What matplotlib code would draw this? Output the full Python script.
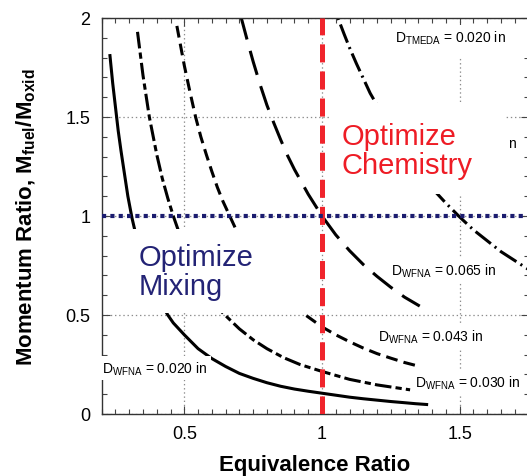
import matplotlib
matplotlib.use("Agg")
import matplotlib.pyplot as plt
from matplotlib.patches import Rectangle
from matplotlib.ticker import MultipleLocator, FuncFormatter

plt.rcParams["font.family"] = ["Liberation Sans", "DejaVu Sans"]
plt.rcParams["mathtext.fontset"] = "custom"
plt.rcParams["mathtext.rm"] = "Liberation Sans"
plt.rcParams["mathtext.bf"] = "Liberation Sans:bold"
plt.rcParams["lines.scale_dashes"] = False

# curves (equivalence ratio, momentum ratio)
x_020 = [0.23, 0.24, 0.25, 0.26, 0.27, 0.283, 0.295, 0.31, 0.32, 0.335, 0.35, 0.365,
         0.38, 0.40, 0.42, 0.44, 0.46, 0.48, 0.5, 0.525, 0.55, 0.575, 0.6, 0.65,
         0.7, 0.75, 0.8, 0.85, 0.9, 0.95, 1.0, 1.05, 1.1, 1.15, 1.2, 1.25, 1.3, 1.34, 1.38]
y_020 = [1.81, 1.67, 1.55, 1.43, 1.33, 1.21, 1.10, 0.99, 0.93, 0.855, 0.79, 0.725,
         0.67, 0.605, 0.55, 0.50, 0.46, 0.43, 0.40, 0.365, 0.33, 0.305, 0.28, 0.24,
         0.205, 0.18, 0.158, 0.14, 0.126, 0.115, 0.105, 0.095, 0.085, 0.077, 0.07,
         0.063, 0.057, 0.052, 0.048]

x_030 = [0.33, 0.35, 0.373, 0.40, 0.42, 0.44, 0.46, 0.48, 0.50, 0.52, 0.54, 0.56,
         0.58, 0.6, 0.64, 0.7, 0.75, 0.8, 0.86, 0.92, 1.0, 1.1, 1.2, 1.32]
y_030 = [1.93, 1.71, 1.5, 1.31, 1.19, 1.09, 1.0, 0.92, 0.845, 0.78, 0.72, 0.67,
         0.625, 0.585, 0.51, 0.43, 0.375, 0.33, 0.285, 0.25, 0.215, 0.175, 0.147, 0.122]

x_043 = [0.473, 0.5, 0.52, 0.541, 0.56, 0.58, 0.60, 0.62, 0.64, 0.665, 0.69, 0.72,
         0.75, 0.78, 0.81, 0.85, 0.89, 0.93, 1.0, 1.05, 1.1, 1.15, 1.2, 1.25, 1.3, 1.355]
y_043 = [1.96, 1.76, 1.63, 1.5, 1.40, 1.31, 1.225, 1.145, 1.075, 1.0, 0.925, 0.85,
         0.785, 0.725, 0.67, 0.61, 0.555, 0.51, 0.44, 0.40, 0.365, 0.333, 0.305,
         0.282, 0.26, 0.24]

x_065 = [0.707, 0.73, 0.75, 0.775, 0.8, 0.825, 0.85, 0.875, 0.9, 0.95, 1.0, 1.05,
         1.1, 1.15, 1.2, 1.25, 1.3, 1.355]
y_065 = [2.0, 1.88, 1.78, 1.665, 1.56, 1.47, 1.385, 1.305, 1.235, 1.11, 1.0, 0.905,
         0.825, 0.755, 0.695, 0.64, 0.59, 0.545]

x_tmeda = [1.058, 1.08, 1.1, 1.125, 1.15, 1.175, 1.204, 1.25, 1.3, 1.35, 1.4, 1.45,
           1.5, 1.55, 1.6, 1.65, 1.7, 1.75]
y_tmeda = [2.0, 1.92, 1.85, 1.77, 1.695, 1.62, 1.55, 1.435, 1.325, 1.23, 1.14,
           1.065, 0.995, 0.93, 0.875, 0.82, 0.775, 0.73]

phi_line = 1.0
mr_line = 1.0

x_ticks = [0.5, 1, 1.5]
y_ticks = [0, 0.5, 1, 1.5, 2]

fig = plt.figure(figsize=(5.27, 4.77), dpi=100)
ax = fig.add_axes([101.7 / 527, 1 - 415 / 477, 426.8 / 527, 396 / 477])
ax.set_xlim(0.2, 1.75)
ax.set_ylim(0, 2)

ax.plot(x_020, y_020, color="black", lw=2.2, zorder=2)
ax.plot(x_030, y_030, color="black", lw=2.2, zorder=2, linestyle=(0, (12, 3, 4.5, 3)))
ax.plot(x_043, y_043, color="black", lw=2.2, zorder=2, linestyle=(0, (8.5, 4.5)))
ax.plot(x_065, y_065, color="black", lw=2.2, zorder=2, linestyle=(2, (18, 8.5)))
ax.plot(x_tmeda, y_tmeda, color="black", lw=2.2, zorder=2,
        linestyle=(0, (1.5, 3.5, 14, 3.5)))

# white boxes behind the region labels
ax.add_patch(Rectangle((0.257, 0.51), 0.68, 0.424, facecolor="white",
                       edgecolor="none", zorder=3))
ax.add_patch(Rectangle((1.029, 1.111), 0.636, 0.46, facecolor="white",
                       edgecolor="none", zorder=3))
ax.add_patch(Rectangle((1.24, 1.80), 0.51, 0.165, facecolor="white",
                       edgecolor="none", zorder=3))

ax.axvline(phi_line, color="#f0242c", lw=3.6, linestyle=(0, (13, 6.5)), zorder=4)
ax.axhline(mr_line, color="#1b1c6f", lw=3.0, linestyle=(0, (3, 3)), zorder=4)

ax.text(1.072, 1.33, "Optimize\nChemistry", color="#ee1c25", fontsize=21,
        va="center", ha="left", linespacing=1.05, zorder=5)
ax.text(0.333, 0.72, "Optimize\nMixing", color="#232375", fontsize=21,
        va="center", ha="left", linespacing=1.05, zorder=5)

lab_box = dict(facecolor="white", edgecolor="none", pad=2.5)
ax.text(1.264, 1.90, r"D$_{\mathrm{TMEDA}}$ = 0.020 in", fontsize=10,
        va="center", ha="left", zorder=5)
ax.text(1.252, 0.725, r"D$_{\mathrm{WFNA}}$ = 0.065 in", fontsize=10,
        va="center", ha="left", zorder=5, bbox=lab_box)
ax.text(1.204, 0.394, r"D$_{\mathrm{WFNA}}$ = 0.043 in", fontsize=10,
        va="center", ha="left", zorder=5, bbox=lab_box)
ax.text(1.337, 0.159, r"D$_{\mathrm{WFNA}}$ = 0.030 in", fontsize=10,
        va="center", ha="left", zorder=5, bbox=lab_box)
ax.text(0.2026, 0.232, r"D$_{\mathrm{WFNA}}$ = 0.020 in", fontsize=10,
        va="center", ha="left", zorder=5, bbox=lab_box)
ax.text(1.675, 1.37, "n", fontsize=10, va="center", ha="left", zorder=5)

ax.set_xticks(x_ticks)
ax.set_yticks(y_ticks)
fmt = FuncFormatter(lambda v, p: f"{v:g}")
ax.xaxis.set_major_formatter(fmt)
ax.yaxis.set_major_formatter(fmt)
ax.xaxis.set_minor_locator(MultipleLocator(0.05))
ax.yaxis.set_minor_locator(MultipleLocator(0.1))
ax.tick_params(which="both", direction="in", top=True, right=True,
               color="#444444", width=0.8)
ax.tick_params(which="major", length=6, labelsize=13, pad=8)
ax.tick_params(which="minor", length=3.5)
ax.grid(True, which="major", linestyle=(0, (1, 2)), color="#8c8c8c", lw=0.9)
for s in ax.spines.values():
    s.set_linewidth(1.0)
    s.set_color("#333333")

ax.set_xlabel("Equivalence Ratio", fontsize=16, fontweight="bold")
ax.xaxis.set_label_coords(0.5, -0.101)
ax.set_ylabel(r"Momentum Ratio, M$_{\mathbf{fuel}}$/M$_{\mathbf{oxid}}$",
              fontsize=16, fontweight="bold")
ax.yaxis.set_label_coords(-0.149, 0.5)

fig.savefig("out.png", dpi=100)
